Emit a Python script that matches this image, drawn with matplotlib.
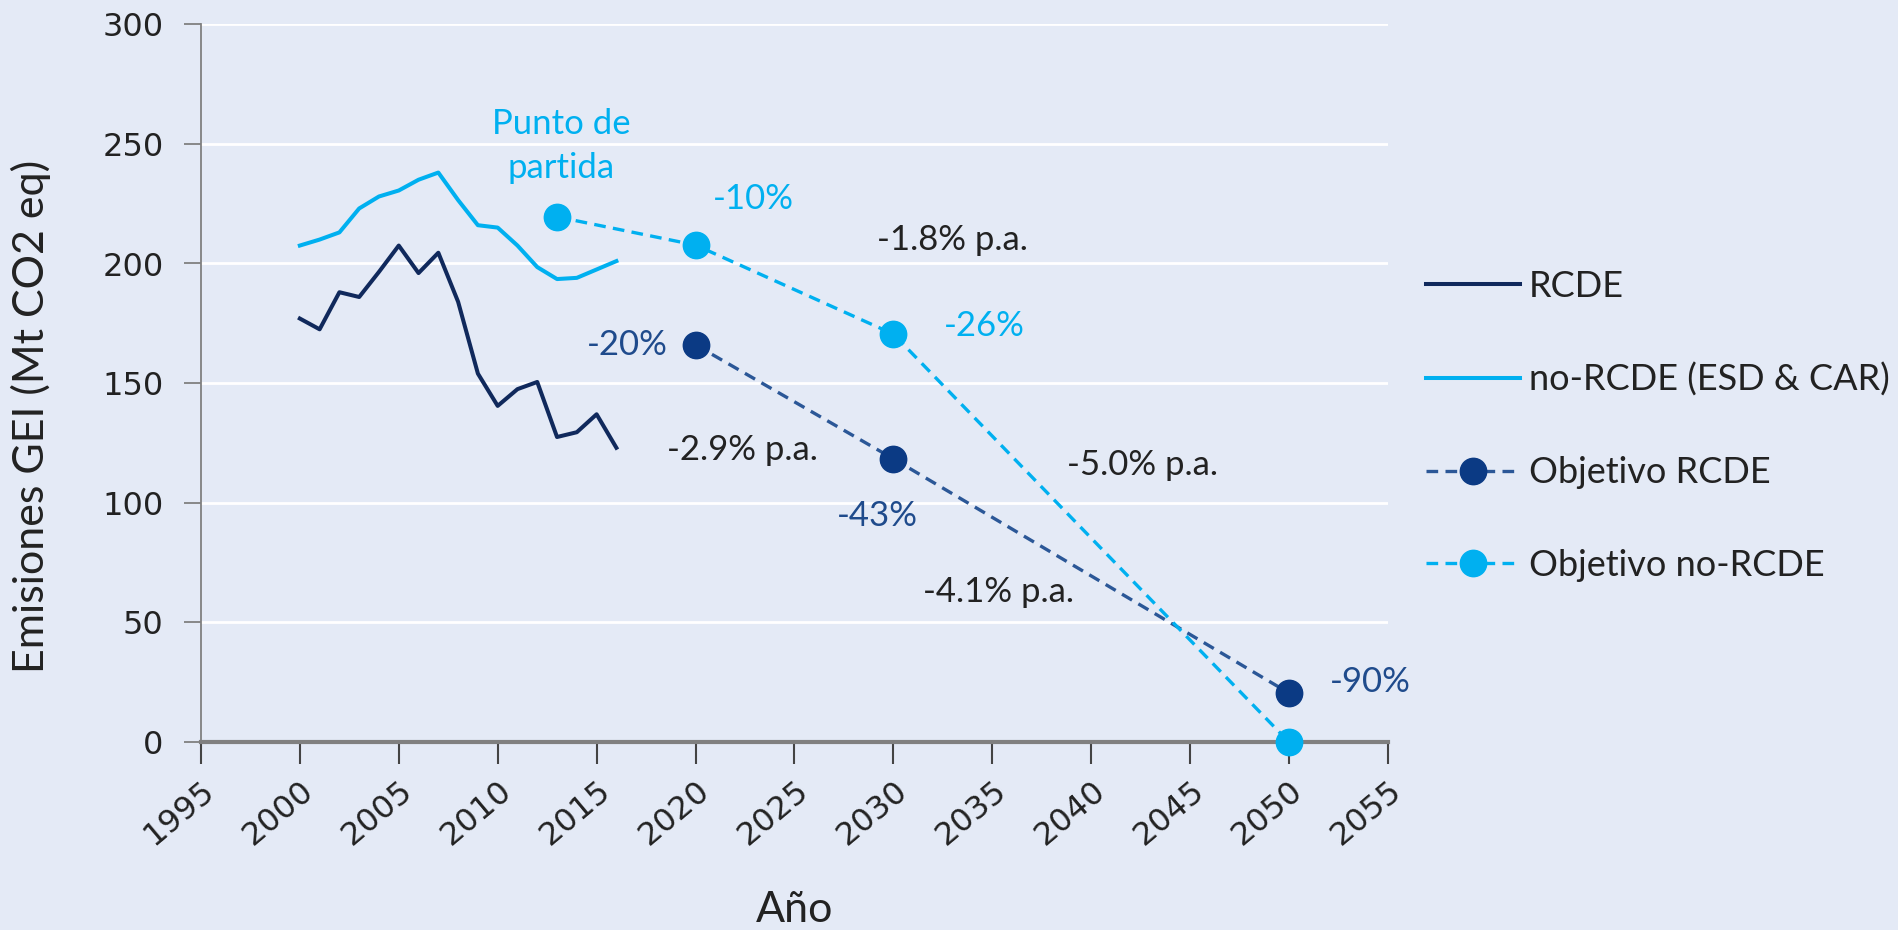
import numpy as np
import matplotlib.pyplot as plt

# historic emissions (Mt CO2 eq)
years = list(range(2000, 2017))
rcde = [177, 172.5, 188, 186, 196.5, 207.5, 196, 204.5, 184, 154,
        140.5, 147.5, 150.5, 127.5, 129.5, 137, 123]
no_rcde = [207.5, 210, 213, 223, 228, 230.5, 235, 238, 226.5, 216,
           215, 207.5, 198.5, 193.5, 194, 197.5, 201]

# targets
rcde_target_years = [2020, 2030, 2050]
rcde_target = [166, 118.4, 20.5]
no_rcde_target_years = [2013, 2020, 2030, 2050]
no_rcde_target = [219.5, 207.7, 170.5, 0]

labels = ['RCDE', 'no-RCDE (ESD & CAR)', 'Objetivo RCDE', 'Objetivo no-RCDE']

BG = '#e4eaf6'
NAVY = '#10295c'
BLUE = '#0b3a84'
BLUE_LINE = '#2b5797'
BLUE_TXT = '#1f4b8c'
CYAN = '#00b0f0'
TXT = '#222222'
GRAY = '#808080'
FONT = 'Lato'

fig = plt.figure(figsize=(18.99, 9.3), dpi=100, facecolor=BG)
ax = fig.add_axes([0.1058, 0.202, 0.6251, 0.772], facecolor=BG)

ax.plot(years, rcde, color=NAVY, lw=2.9, label=labels[0])
ax.plot(years, no_rcde, color=CYAN, lw=2.9, label=labels[1])
ax.plot(rcde_target_years, rcde_target, color=BLUE_LINE, lw=2.4,
        dashes=(3.5, 2.2), marker='o', ms=19, mfc=BLUE, mec=BLUE,
        label=labels[2], clip_on=False, zorder=4)
ax.plot(no_rcde_target_years, no_rcde_target, color=CYAN, lw=2.4,
        dashes=(3.5, 2.2), marker='o', ms=19, mfc=CYAN, mec=CYAN,
        label=labels[3], clip_on=False, zorder=4)

ax.set_xlim(1995, 2055)
ax.set_ylim(0, 300)
ax.set_xticks(range(1995, 2056, 5))
ax.set_yticks(range(0, 301, 50))
ax.yaxis.grid(True, color='white', lw=2)
ax.set_axisbelow(True)

for s in ['top', 'right']:
    ax.spines[s].set_visible(False)
ax.spines['left'].set_color(GRAY)
ax.spines['left'].set_linewidth(1.3)
ax.spines['bottom'].set_color(GRAY)
ax.spines['bottom'].set_linewidth(3)

ax.tick_params(axis='y', length=12, width=1.3, color=GRAY, labelsize=23,
               labelcolor=TXT, pad=15)
ax.tick_params(axis='x', length=16, width=1.5, color='#444444', labelsize=23,
               labelcolor=TXT, pad=8)
for t in ax.get_xticklabels():
    t.set_rotation(40)
    t.set_ha('right')
    t.set_va('top')
    t.set_rotation_mode('anchor')

ax.set_ylabel('Emisiones GEI (Mt CO2 eq)', fontsize=31, family=FONT,
              color=TXT)
ax.yaxis.set_label_coords(-0.126, 0.454)
ax.set_xlabel('Año', fontsize=31, family=FONT, color=TXT, labelpad=28)

# annotations
notes = [
    ('Punto de\npartida', 2013.2, 249, CYAN, 'center'),
    ('-10%', 2022.9, 227, CYAN, 'center'),
    ('-1.8% p.a.', 2033.0, 209.7, TXT, 'center'),
    ('-26%', 2034.6, 173.8, CYAN, 'center'),
    ('-20%', 2018.6, 166, BLUE_TXT, 'right'),
    ('-2.9% p.a.', 2022.35, 122, TXT, 'center'),
    ('-43%', 2029.2, 94.5, BLUE_TXT, 'center'),
    ('-5.0% p.a.', 2042.6, 116, TXT, 'center'),
    ('-4.1% p.a.', 2035.3, 62.7, TXT, 'center'),
    ('-90%', 2054.1, 25, BLUE_TXT, 'center'),
]
for txt, x, y, c, ha in notes:
    ax.text(x, y, txt, ha=ha, va='center', fontsize=25, family=FONT,
            color=c, linespacing=1.45, clip_on=False)

ax.legend(loc='center left', bbox_to_anchor=(1426 / 1899, 1 - 426 / 930),
          bbox_transform=fig.transFigure, frameon=False, borderpad=0,
          borderaxespad=0, handlelength=2.6, handletextpad=0.25,
          labelspacing=1.65, numpoints=1,
          prop={'family': FONT, 'size': 26}, labelcolor=TXT)

fig.savefig('out.png', dpi=100, facecolor=BG)
